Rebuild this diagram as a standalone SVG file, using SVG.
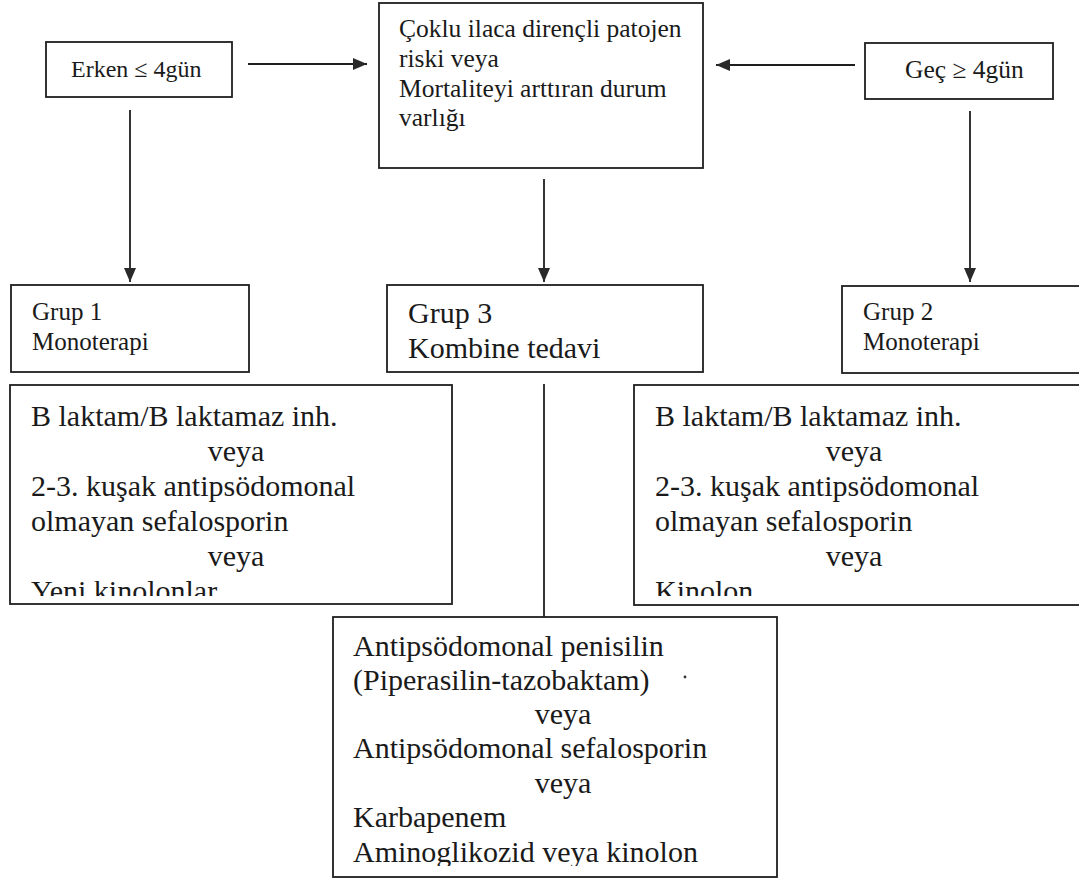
<svg xmlns="http://www.w3.org/2000/svg" width="1079" height="879" viewBox="0 0 1079 879">
<style>
.box{fill:#fff;stroke:#1e1e1e;stroke-width:1.8}
.t{font-family:"Liberation Serif","Times New Roman",serif;fill:#1a1a1a}
.s24{font-size:24px}
.sg{font-size:25px}
.s25{font-size:25.5px}
.s30{font-size:30px}
.c{text-anchor:middle}
.ln{stroke:#1e1e1e;stroke-width:1.8;fill:none}
</style>
<defs>
<marker id="ah" markerUnits="userSpaceOnUse" markerWidth="16" markerHeight="12" refX="14" refY="6" orient="auto"><path d="M0,0 L14,6 L0,12 z" fill="#2a2a2a"/></marker>
<clipPath id="clipL"><rect x="10" y="385" width="442" height="211"/></clipPath>
<clipPath id="clipR"><rect x="634" y="385" width="445" height="211"/></clipPath>
<clipPath id="clipB"><rect x="333" y="617" width="444" height="249"/></clipPath>
</defs>
<rect width="1079" height="879" fill="#fff"/>

<g id="connectors">
<line class="ln" x1="248" y1="64" x2="367" y2="64" marker-end="url(#ah)"/>
<line class="ln" x1="855" y1="65" x2="716" y2="65" marker-end="url(#ah)"/>
<line class="ln" x1="130" y1="110" x2="130" y2="282" marker-end="url(#ah)"/>
<line class="ln" x1="544" y1="179" x2="544" y2="282" marker-end="url(#ah)"/>
<line class="ln" x1="970" y1="111" x2="970" y2="282" marker-end="url(#ah)"/>
<line class="ln" x1="544" y1="384" x2="544" y2="617"/>
</g>

<g id="erken">
<rect class="box" x="46" y="42" width="186" height="55"/>
<text class="t s24" x="71" y="77">Erken ≤ 4gün</text>
</g>

<g id="risk">
<rect class="box" x="379" y="3" width="324" height="165"/>
<text class="t s25" x="399" y="37">Çoklu ilaca dirençli patojen</text>
<text class="t s25" x="399" y="67">riski veya</text>
<text class="t s25" x="399" y="97">Mortaliteyi arttıran durum</text>
<text class="t s25" x="399" y="126">varlığı</text>
</g>

<g id="gec">
<rect class="box" x="865" y="43" width="188" height="56"/>
<text class="t s25" x="905" y="78">Geç ≥ 4gün</text>
</g>

<g id="grup1">
<rect class="box" x="11" y="285" width="238" height="87"/>
<text class="t sg" x="32" y="320">Grup 1</text>
<text class="t sg" x="32" y="350">Monoterapi</text>
</g>

<g id="grup3">
<rect class="box" x="387" y="285" width="316" height="87"/>
<text class="t s30" x="408" y="323">Grup 3</text>
<text class="t s30" x="408" y="358">Kombine tedavi</text>
</g>

<g id="grup2">
<rect class="box" x="842" y="286" width="250" height="87"/>
<text class="t sg" x="863" y="320">Grup 2</text>
<text class="t sg" x="863" y="350">Monoterapi</text>
</g>

<g id="grup1-ilac">
<rect class="box" x="10" y="385" width="442" height="219"/>
<g clip-path="url(#clipL)">
<text class="t s30" x="31" y="426">B laktam/B laktamaz inh.</text>
<text class="t s30 c" x="236" y="461">veya</text>
<text class="t s30" x="31" y="496">2-3. kuşak antipsödomonal</text>
<text class="t s30" x="31" y="531">olmayan sefalosporin</text>
<text class="t s30 c" x="236" y="566">veya</text>
<text class="t s30" x="31" y="601">Yeni kinolonlar</text>
</g>
</g>

<g id="grup2-ilac">
<rect class="box" x="634" y="385" width="460" height="220"/>
<g clip-path="url(#clipR)">
<text class="t s30" x="655" y="426">B laktam/B laktamaz inh.</text>
<text class="t s30 c" x="854" y="461">veya</text>
<text class="t s30" x="655" y="496">2-3. kuşak antipsödomonal</text>
<text class="t s30" x="655" y="531">olmayan sefalosporin</text>
<text class="t s30 c" x="854" y="566">veya</text>
<text class="t s30" x="655" y="601">Kinolon</text>
</g>
</g>

<g id="grup3-ilac">
<rect class="box" x="333" y="617" width="444" height="260"/>
<g clip-path="url(#clipB)">
<text class="t s30" x="353" y="656">Antipsödomonal penisilin</text>
<text class="t s30" x="353" y="690">(Piperasilin-tazobaktam)</text>
<text class="t s30 c" x="563" y="724">veya</text>
<text class="t s30" x="353" y="758">Antipsödomonal sefalosporin</text>
<text class="t s30 c" x="563" y="793">veya</text>
<text class="t s30" x="353" y="827">Karbapenem</text>
<text class="t s30" x="353" y="862">Aminoglikozid veya kinolon</text>
</g>
<circle cx="685" cy="677" r="1.4" fill="#333"/>
</g>
</svg>
